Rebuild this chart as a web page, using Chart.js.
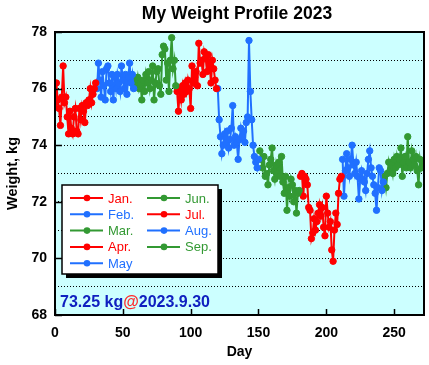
<!DOCTYPE html>
<html>
<head>
<meta charset="utf-8">
<script src="https://cdn.jsdelivr.net/npm/chart.js@4.4.1/dist/chart.umd.min.js"></script>
<style>
html,body{margin:0;padding:0;background:#fff;}
#wrap{width:429px;height:365px;}
</style>
</head>
<body>
<div id="wrap"><canvas id="c" width="429" height="365"></canvas></div>
<script>
// ---- data (daily weights, kg) ----
const monthNames = ['Jan.','Feb.','Mar.','Apr.','May','Jun.','Jul.','Aug.','Sep.'];
const monthStartDay = [0,31,59,90,120,151,181,212,243];
const jan = [75.5,76.2,75.6,75.3,74.7,75.7,76.8,75.5,75.7,75.0,74.4,75.2,74.6,74.4,75.0,75.3,74.5,74.4,75.3,74.9,75.4,75.2,74.8,75.5,75.4,75.6,76.0,75.5,75.8,76.0,76.2];
const feb = [76.0,76.9,76.3,75.7,76.6,76.1,75.6,76.7,76.8,76.2,75.9,76.5,75.6,76.4,76.0,76.5,76.2,75.9,76.8,76.3,76.0,76.5,75.8,76.4,76.9,76.2,76.5,76.0];
const mar = [76.3,76.1,76.4,76.0,76.2,75.6,76.3,75.9,76.5,76.2,76.6,76.0,76.3,76.8,75.6,76.2,76.6,76.7,76.1,75.8,77.2,77.5,77.4,76.3,76.9,75.9,77.0,77.8,76.7,77.0,76.1];
const apr = [75.9,75.2,76.0,75.6,76.1,75.8,76.2,75.9,76.3,76.0,75.3,76.8,76.2,76.4,76.6,76.1,77.6,76.9,77.0,76.5,77.3,77.1,76.6,77.2,76.8,76.2,77.0,76.7,76.3,76.0];
const may = [76.0,74.9,74.3,73.7,74.0,74.4,74.1,74.5,73.9,74.2,74.6,75.4,74.0,74.3,74.1,73.5,74.2,74.6,74.3,74.5,74.1,74.8,75.0,77.7,75.9,74.9,74.0,73.6,73.4,73.2,73.5];
const jun = [73.8,73.5,73.2,73.6,72.9,73.0,72.6,73.3,73.5,73.9,73.1,72.8,73.3,73.0,73.4,72.9,73.6,72.7,72.3,72.9,71.7,72.5,72.2,72.8,72.6,72.0,72.4,71.6,72.3,72.4];
const jul = [72.9,73.0,72.2,72.9,72.8,72.6,71.8,71.7,70.7,70.9,71.4,71.0,71.3,71.6,71.9,71.5,71.8,71.1,70.8,72.2,71.6,71.1,71.3,70.3,69.9,71.0,71.6,71.2,72.3,72.8,72.9];
const aug = [73.5,72.2,73.1,73.7,73.2,72.9,73.5,74.0,73.3,73.0,73.4,72.9,72.1,72.8,73.1,72.8,72.7,72.4,73.0,73.5,73.8,73.2,72.9,72.6,72.3,71.7,72.5,73.2,73.1,72.4,72.7];
const sep = [72.9,72.5,73.0,73.4,73.1,73.3,73.0,73.5,73.2,73.6,73.3,73.5,73.9,72.9,73.4,73.6,73.2,74.3,73.4,73.2,73.8,73.5,73.3,73.6,73.1,72.6,73.5,73.2,73.4,73.25];
const xTicks = [0,50,100,150,200,250];
const yTicks = [68,70,72,74,76,78];
const latestText = ['73.25 kg','@','2023.9.30'];

const RED='#ff0000', BLUE='#2070ff', GREEN='#339933';
const monthColors = [RED,BLUE,GREEN,RED,BLUE,GREEN,RED,BLUE,GREEN];
const months = [jan,feb,mar,apr,may,jun,jul,aug,sep];

const datasets = months.map((arr,m)=>({
  label: monthNames[m],
  data: arr.map((v,i)=>({x: monthStartDay[m]+i, y: v})),
  borderColor: monthColors[m],
  backgroundColor: monthColors[m],
  pointBackgroundColor: monthColors[m],
  pointBorderColor: monthColors[m],
  pointRadius: 3.2,
  pointBorderWidth: 1,
  borderWidth: 2,
  tension: 0,
  fill: false
}));

const FONT = '"Liberation Sans", Arial, Helvetica, sans-serif';

const deco = {
  id: 'deco',
  beforeDraw(chart){
    const {ctx, chartArea:a} = chart;
    ctx.save();
    ctx.fillStyle = '#ccffff';
    ctx.fillRect(a.left, a.top, a.right-a.left, a.bottom-a.top);
    ctx.restore();
  },
  afterDraw(chart){
    const {ctx, chartArea:a, scales} = chart;
    ctx.save();
    // border
    ctx.strokeStyle = '#000';
    ctx.lineWidth = 2;
    ctx.strokeRect(a.left, a.top, a.right-a.left, a.bottom-a.top);
    // inward ticks
    ctx.lineWidth = 1.5;
    ctx.beginPath();
    yTicks.forEach(v=>{
      const y = Math.round(scales.y.getPixelForValue(v))+0.5;
      ctx.moveTo(a.left, y); ctx.lineTo(a.left+7, y);
    });
    xTicks.forEach(v=>{
      const x = Math.round(scales.x.getPixelForValue(v))+0.5;
      ctx.moveTo(x, a.bottom); ctx.lineTo(x, a.bottom-6);
    });
    ctx.stroke();

    // title
    ctx.fillStyle = '#000';
    ctx.font = 'bold 17.5px ' + FONT;
    ctx.textAlign = 'center';
    ctx.textBaseline = 'alphabetic';
    ctx.fillText('My Weight Profile 2023', 237, 19);

    // legend box
    const L=62, T=185, R=218, B=274;
    ctx.fillStyle = '#000';
    ctx.fillRect(L+4, T+4, R-L, B-T);
    ctx.fillStyle = '#fff';
    ctx.fillRect(L, T, R-L, B-T);
    ctx.strokeStyle = '#000';
    ctx.lineWidth = 1.5;
    ctx.strokeRect(L, T, R-L, B-T);
    ctx.font = '13px ' + FONT;
    ctx.textAlign = 'left';
    ctx.textBaseline = 'middle';
    monthNames.forEach((name,m)=>{
      const col = m<5 ? 0 : 1;
      const row = m<5 ? m : m-5;
      const y = 198 + row*16.3;
      const x0 = col===0 ? 70 : 147;
      ctx.strokeStyle = monthColors[m];
      ctx.fillStyle = monthColors[m];
      ctx.lineWidth = 2;
      ctx.beginPath(); ctx.moveTo(x0, y); ctx.lineTo(x0+33, y); ctx.stroke();
      ctx.beginPath(); ctx.arc(x0+17, y, 3.3, 0, Math.PI*2); ctx.fill();
      ctx.fillText(name, x0+38, y+1);
    });

    // latest value annotation
    ctx.font = 'bold 16px ' + FONT;
    ctx.textBaseline = 'alphabetic';
    let x = 60;
    const cols = ['#1020c0','#ff2a2a','#1020c0'];
    latestText.forEach((t,i)=>{
      ctx.fillStyle = cols[i];
      ctx.fillText(t, x, 307);
      x += ctx.measureText(t).width;
    });
    ctx.restore();
  }
};

new Chart(document.getElementById('c'), {
  type: 'line',
  data: { datasets },
  options: {
    responsive: false,
    animation: false,
    devicePixelRatio: 1,
    layout: { padding: { top: 32, right: 4, left: 0, bottom: 0 } },
    plugins: { legend: { display: false }, tooltip: { enabled: false }, title: { display: false } },
    scales: {
      x: {
        type: 'linear',
        min: 0, max: 272,
        grid: { display: false },
        border: { display: false },
        ticks: {
          stepSize: 50, includeBounds: false, autoSkip: false, maxRotation: 0,
          color: '#000', padding: 2,
          font: { family: FONT, size: 14, weight: 'bold' }
        },
        title: {
          display: true, text: 'Day', color: '#000',
          font: { family: FONT, size: 14, weight: 'bold' },
          padding: { top: 0, bottom: 4 }
        },
        afterFit(s){ s.height = 50; }
      },
      y: {
        type: 'linear',
        min: 68, max: 78,
        grid: { display: true, color: '#000', lineWidth: 1, drawTicks: false },
        border: { display: false, dash: [1,2] },
        ticks: {
          stepSize: 1, autoSkip: false, color: '#000', padding: 8,
          font: { family: FONT, size: 14, weight: 'bold' },
          callback: (v)=> (yTicks.includes(v) ? String(v) : '')
        },
        title: {
          display: true, text: 'Weight, kg', color: '#000',
          font: { family: FONT, size: 14.5, weight: 'bold' },
          padding: { top: 4, bottom: 0 }
        },
        afterFit(s){ s.width = 55; }
      }
    }
  },
  plugins: [deco]
});
</script>
</body>
</html>
